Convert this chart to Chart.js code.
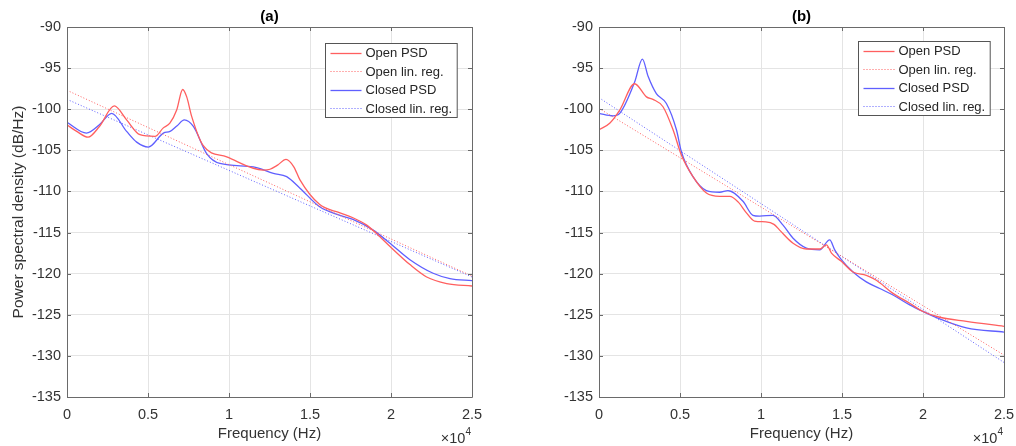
<!DOCTYPE html>
<html>
<head>
<meta charset="utf-8">
<script src="https://cdn.jsdelivr.net/npm/chart.js@4.4.0/dist/chart.umd.min.js"></script>
<style>
    body { margin: 0; background: #ffffff; }
    canvas { position: absolute; top: 0; }
</style>
</head>
<body>
<canvas id="chartA" width="508" height="446" style="left:0"></canvas>
<canvas id="chartB" width="508" height="446" style="left:508px"></canvas>
<script>
const labels = ['Open PSD', 'Open lin. reg.', 'Closed PSD', 'Closed lin. reg.'];
const yTicks = [-135, -130, -125, -120, -115, -110, -105, -100, -95, -90];
const xTicks = [0, 5000, 10000, 15000, 20000, 25000];

// panel (a)
const openFreqA = [0, 600, 1300, 2000, 2920, 3680, 4500, 5430, 5930, 6350, 6770, 7140, 7390, 7700, 8400, 9860, 12100, 12530, 13000, 13520, 14000, 14380, 15600, 16850, 17650, 18500, 19200, 19940, 21170, 22200, 23440, 25000];
const openDbA = [-101.9, -102.7, -103.4, -102.1, -99.6, -101.3, -103.1, -103.3, -102.3, -101.7, -100.1, -97.6, -98.5, -100.9, -104.4, -105.8, -107.4, -107.3, -106.8, -106.1, -107.0, -108.6, -111.6, -112.6, -113.2, -114.1, -115.3, -116.7, -118.9, -120.4, -121.2, -121.5];
const closedFreqA = [0, 1200, 2000, 2760, 3680, 4300, 5020, 5950, 6360, 6800, 7240, 7800, 8620, 9440, 11500, 12740, 13560, 14380, 15620, 16850, 17650, 18900, 19940, 21170, 22600, 23640, 25000];
const closedDbA = [-101.6, -102.9, -101.9, -100.5, -102.7, -104.0, -104.6, -102.9, -102.7, -102.0, -101.3, -102.1, -105.4, -106.6, -107.0, -107.8, -108.2, -109.6, -111.9, -112.9, -113.4, -114.7, -116.3, -118.3, -119.95, -120.6, -120.85];
const regFreqA = [0, 25000];
const openRegA = [-97.7, -120.3];
const closedRegA = [-98.8, -120.4];

// panel (b)
const openFreqB = [0, 660, 1280, 2200, 2930, 3330, 3950, 4570, 5090, 5800, 6630, 7450, 8070, 8600, 9100, 9600, 10300, 10800, 11150, 11980, 12800, 13620, 14040, 14350, 14960, 15680, 16500, 17120, 18150, 19180, 20000, 21030, 22680, 25000];
const openDbB = [-102.5, -101.7, -100.1, -96.9, -98.5, -98.8, -99.7, -102.5, -105.6, -108.2, -110.2, -110.6, -110.6, -111.3, -112.6, -113.6, -113.7, -114.0, -114.7, -116.3, -117.0, -117.0, -116.5, -117.5, -118.5, -119.8, -120.2, -120.8, -122.4, -123.6, -124.6, -125.3, -125.8, -126.4];
const closedFreqB = [0, 870, 1280, 2200, 2680, 3030, 3540, 4160, 4780, 5090, 5800, 6630, 7450, 7960, 8890, 9500, 9920, 10740, 11360, 11980, 12800, 13620, 14240, 14550, 14960, 15680, 16500, 17330, 18150, 19180, 20000, 21030, 22680, 25000];
const closedDbB = [-100.5, -100.8, -100.5, -96.7, -93.9, -96.0, -98.1, -99.3, -102.5, -105.2, -108.2, -109.9, -110.1, -109.9, -111.2, -112.9, -113.0, -112.9, -114.1, -115.7, -116.9, -117.1, -115.9, -117.1, -118.3, -119.8, -121.0, -121.8, -122.6, -123.8, -124.6, -125.5, -126.6, -127.1];
const regFreqB = [0, 25000];
const openRegB = [-99.9, -129.9];
const closedRegB = [-98.6, -130.8];

const RED = 'rgb(255, 95, 95)';
const BLUE = 'rgb(95, 95, 255)';
const AXIS = '#6a6a6a';
const TEXT = '#333333';
const FONT = '"Liberation Sans", Arial, sans-serif';

const toPoints = (xs, ys) => xs.map((x, i) => ({ x: x, y: ys[i] }));

function makeDatasets(openF, openD, closedF, closedD, regF, openR, closedR) {
    return [
        { label: labels[0], data: toPoints(openF, openD), borderColor: RED, borderWidth: 1.3, cubicInterpolationMode: 'monotone' },
        { label: labels[1], data: toPoints(regF, openR), borderColor: RED, borderWidth: 1, borderDash: [1, 2] },
        { label: labels[2], data: toPoints(closedF, closedD), borderColor: BLUE, borderWidth: 1.3, cubicInterpolationMode: 'monotone' },
        { label: labels[3], data: toPoints(regF, closedR), borderColor: BLUE, borderWidth: 1, borderDash: [1, 2] }
    ];
}

// box, inward ticks, panel title, x10^4 and boxed legend like matlab
const matlabFrame = {
    id: 'matlabFrame',
    afterDraw(chart, args, opts) {
        const { ctx, chartArea: a, scales: { x, y } } = chart;
        ctx.save();
        ctx.strokeStyle = AXIS;
        ctx.lineWidth = 1;
        ctx.beginPath();
        ctx.rect(Math.round(a.left) + 0.5, Math.round(a.top) + 0.5, Math.round(a.right - a.left), Math.round(a.bottom - a.top));
        xTicks.forEach(v => {
            const px = Math.round(x.getPixelForValue(v)) + 0.5;
            ctx.moveTo(px, a.bottom); ctx.lineTo(px, a.bottom - 4);
            ctx.moveTo(px, a.top); ctx.lineTo(px, a.top + 4);
        });
        yTicks.forEach(v => {
            const py = Math.round(y.getPixelForValue(v)) + 0.5;
            ctx.moveTo(a.left, py); ctx.lineTo(a.left + 4, py);
            ctx.moveTo(a.right, py); ctx.lineTo(a.right - 4, py);
        });
        ctx.stroke();

        ctx.fillStyle = '#000';
        ctx.font = 'bold 15px ' + FONT;
        ctx.textAlign = 'center';
        ctx.textBaseline = 'middle';
        ctx.fillText(opts.title, (a.left + a.right) / 2, 17);

        ctx.fillStyle = TEXT;
        ctx.textAlign = 'right';
        ctx.font = '10px ' + FONT;
        ctx.fillText('4', a.right - 1, 432);
        const w4 = ctx.measureText('4').width;
        ctx.font = '14.5px ' + FONT;
        ctx.fillText('\u00d710', a.right - 1 - w4, 439);

        // legend
        ctx.font = '13px ' + FONT;
        const dss = chart.data.datasets;
        const textW = Math.max(...dss.map(d => ctx.measureText(d.label).width));
        const boxW = 5 + 31 + 4 + textW + 5;
        const rowH = 18.5;
        const boxH = rowH * dss.length;
        const bx = Math.round(a.right - opts.legendRight - boxW) + 0.5;
        const by = Math.round(a.top + opts.legendTop) + 0.5;
        ctx.fillStyle = '#fff';
        ctx.fillRect(bx, by, boxW, boxH);
        ctx.strokeStyle = '#555';
        ctx.setLineDash([]);
        ctx.strokeRect(bx, by, boxW, boxH);
        ctx.textAlign = 'left';
        dss.forEach((d, i) => {
            const cy = by + rowH * (i + 0.5);
            ctx.strokeStyle = d.borderColor;
            ctx.lineWidth = d.borderWidth;
            ctx.setLineDash(d.borderDash || []);
            ctx.beginPath();
            ctx.moveTo(bx + 5, Math.round(cy) + 0.5);
            ctx.lineTo(bx + 36, Math.round(cy) + 0.5);
            ctx.stroke();
            ctx.fillStyle = '#262626';
            ctx.fillText(d.label, bx + 40, cy + 1);
        });
        ctx.restore();
    }
};

function makeConfig(datasets, title, yWidth, padRight, showYTitle, legendRight, legendTop) {
    return {
        type: 'line',
        data: { datasets: datasets },
        plugins: [matlabFrame],
        options: {
            responsive: false,
            animation: false,
            layout: { padding: { top: 27, right: padRight, bottom: 0, left: 0 } },
            elements: { point: { radius: 0 }, line: { fill: false } },
            plugins: {
                legend: { display: false },
                title: { display: false },
                tooltip: { enabled: false },
                matlabFrame: { title: title, legendRight: legendRight, legendTop: legendTop }
            },
            scales: {
                x: {
                    type: 'linear',
                    min: 0,
                    max: 25000,
                    afterBuildTicks: s => { s.ticks = xTicks.map(v => ({ value: v })); },
                    afterFit: s => { s.height = 49; s.paddingLeft = 0; s.paddingRight = 0; },
                    ticks: {
                        callback: v => String(v / 1e4),
                        color: TEXT,
                        font: { family: FONT, size: 14.5 },
                        padding: 9,
                        maxRotation: 0
                    },
                    grid: { color: '#e4e4e4', drawTicks: false },
                    border: { display: false },
                    title: {
                        display: true,
                        text: 'Frequency (Hz)',
                        color: TEXT,
                        font: { family: FONT, size: 15 },
                        padding: { top: 0, bottom: 3 }
                    }
                },
                y: {
                    min: -135,
                    max: -90,
                    afterBuildTicks: s => { s.ticks = yTicks.map(v => ({ value: v })); },
                    afterFit: s => { s.width = yWidth; s.paddingTop = 0; s.paddingBottom = 0; },
                    ticks: {
                        color: TEXT,
                        font: { family: FONT, size: 14.5 },
                        padding: 6
                    },
                    grid: { color: '#e4e4e4', drawTicks: false },
                    border: { display: false },
                    title: {
                        display: showYTitle,
                        text: 'Power spectral density (dB/Hz)',
                        color: TEXT,
                        font: { family: FONT, size: 15.5 },
                        padding: { top: 9, bottom: 0 }
                    }
                }
            }
        }
    };
}

const chartA = new Chart(
    document.getElementById('chartA'),
    makeConfig(makeDatasets(openFreqA, openDbA, closedFreqA, closedDbA, regFreqA, openRegA, closedRegA), '(a)', 67, 36, true, 15, 16)
);

const chartB = new Chart(
    document.getElementById('chartB'),
    makeConfig(makeDatasets(openFreqB, openDbB, closedFreqB, closedDbB, regFreqB, openRegB, closedRegB), '(b)', 91, 12, false, 14, 14)
);
</script>
</body>
</html>
